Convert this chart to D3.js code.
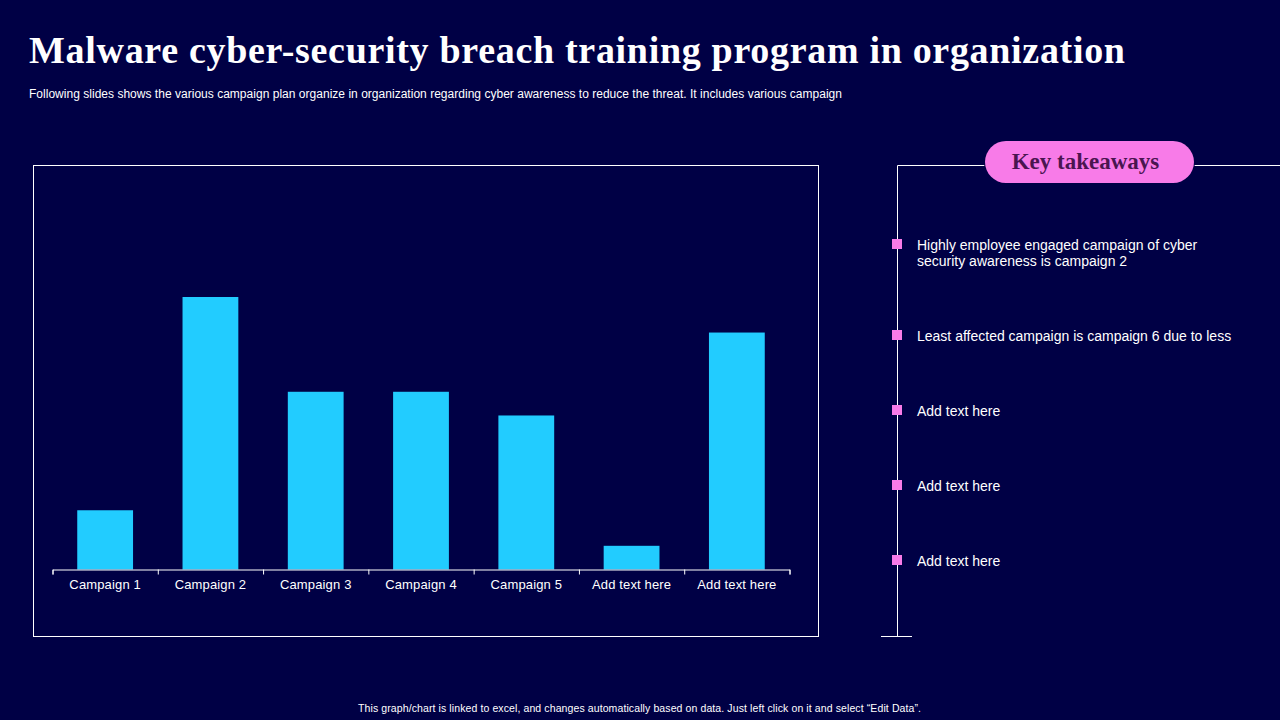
<!DOCTYPE html>
<html>
<head>
    <meta charset="utf-8">
    <title>Malware cyber-security breach training program</title>
    <script type="text/javascript" src="https://cdn.jsdelivr.net/npm/d3@7"></script>
    <style>
        html, body { margin: 0; padding: 0; background: #000045; overflow: hidden; }
        text { font-family: "Liberation Sans", Arial, sans-serif; fill: #fff; }
        .serif { font-family: "Liberation Serif", serif; font-weight: bold; }
        .axis path, .axis line { stroke: #fff; }
    </style>
</head>

<body>

<script type="text/javascript">

    var data = [
        {name: "Campaign 1", value: 2.5},
        {name: "Campaign 2", value: 11.5},
        {name: "Campaign 3", value: 7.5},
        {name: "Campaign 4", value: 7.5},
        {name: "Campaign 5", value: 6.5},
        {name: "Add text here", value: 1},
        {name: "Add text here ", value: 10}
    ];

    var takeaways = [
        {y: 244, lines: ["Highly employee engaged campaign of cyber", "security awareness is campaign 2"]},
        {y: 335, lines: ["Least affected campaign is campaign 6 due to less"]},
        {y: 410, lines: ["Add text here"]},
        {y: 485, lines: ["Add text here"]},
        {y: 560, lines: ["Add text here"]}
    ];

    var svg = d3.select("body").append("svg")
            .attr("width", 1280)
            .attr("height", 720)
            .style("display", "block");

    // heading
    svg.append("text").attr("class", "serif")
            .attr("x", 29).attr("y", 63)
            .attr("font-size", 38)
            .attr("textLength", 1096)
            .text("Malware cyber-security breach training program in organization");

    svg.append("text")
            .attr("x", 29).attr("y", 98)
            .attr("font-size", 12)
            .attr("textLength", 813)
            .text("Following slides shows the various campaign plan organize in organization regarding cyber awareness to reduce the threat. It includes various campaign");

    // chart frame
    svg.append("rect")
            .attr("x", 33.5).attr("y", 165.5)
            .attr("width", 785).attr("height", 471)
            .attr("fill", "none").attr("stroke", "#fff");

    var x = d3.scaleBand()
            .domain(data.map(function(d){ return d.name; }))
            .range([52.5, 789.5])
            .paddingInner(0.47)
            .paddingOuter(0.235);

    var edges = d3.scaleLinear().domain([0, data.length]).range([52.5, 789.5]);

    var y = d3.scaleLinear().domain([0, 11.5]).range([569.5, 297]);

    svg.selectAll("rect.bar").data(data).enter().append("rect")
            .attr("class", "bar")
            .attr("x", function(d){ return x(d.name); })
            .attr("y", function(d){ return y(d.value); })
            .attr("width", x.bandwidth())
            .attr("height", function(d){ return y(0) - y(d.value); })
            .attr("fill", "#22ccff");

    // ticks sit on the category edges, labels on the centres
    svg.append("g").attr("class", "axis")
            .attr("transform", "translate(0,569.5)")
            .call(d3.axisBottom(edges).ticks(data.length).tickSize(5).tickSizeOuter(5).tickFormat(""));

    var labels = svg.append("g")
            .attr("transform", "translate(0,569.5)")
            .call(d3.axisBottom(x).tickSize(0));
    labels.select("path").remove();
    labels.selectAll("text")
            .attr("y", 19)
            .attr("dy", 0)
            .attr("font-size", 13)
            .attr("font-family", "Liberation Sans")
            .attr("fill", "#fff")
            .style("letter-spacing", "0.15px");

    // key takeaways
    svg.append("path")
            .attr("d", "M1280,165.5H897.5V636.5")
            .attr("fill", "none").attr("stroke", "#fff");
    svg.append("path")
            .attr("d", "M881,636.5H912")
            .attr("fill", "none").attr("stroke", "#fff");

    svg.append("rect")
            .attr("x", 985).attr("y", 141)
            .attr("width", 209).attr("height", 42)
            .attr("rx", 21)
            .attr("fill", "#f87be8")
            .attr("stroke", "#000045")
            .attr("stroke-width", 2)
            .style("paint-order", "stroke");

    svg.append("text").attr("class", "serif")
            .attr("x", 1085.5).attr("y", 169)
            .attr("text-anchor", "middle")
            .attr("font-size", 23)
            .style("fill", "#4a1550")
            .text("Key takeaways");

    var items = svg.selectAll("g.item").data(takeaways).enter().append("g").attr("class", "item");

    items.append("rect")
            .attr("x", 892).attr("width", 10).attr("height", 10)
            .attr("y", function(d){ return d.y - 5; })
            .attr("fill", "#f87be8");

    items.each(function(d){
        d3.select(this).selectAll("text").data(d.lines).enter().append("text")
                .attr("x", 917)
                .attr("y", function(l, i){ return d.y + 6 + i * 16; })
                .attr("font-size", 14)
                .text(function(l){ return l; });
    });

    svg.append("text")
            .attr("x", 639.5).attr("y", 712)
            .attr("text-anchor", "middle")
            .attr("font-size", 10.5)
            .attr("textLength", 563)
            .text("This graph/chart is linked to excel, and changes automatically based on data. Just left click on it and select \u201cEdit Data\u201d.");

</script>

</body>

</html>
